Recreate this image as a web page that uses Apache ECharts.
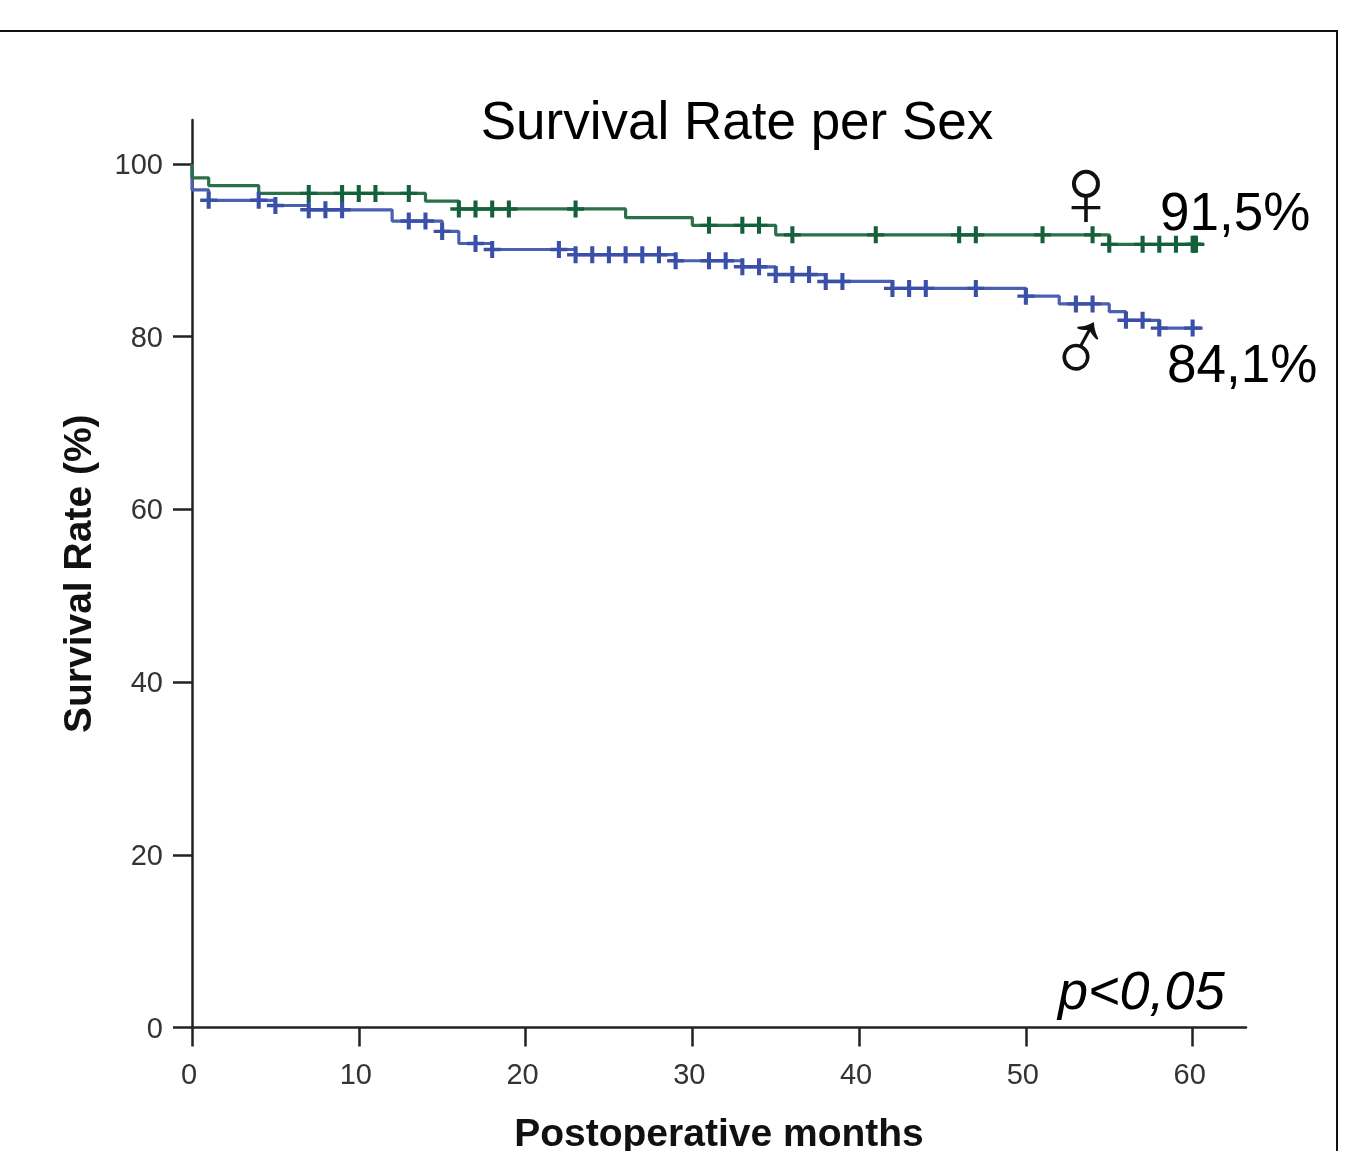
<!DOCTYPE html>
<html><head><meta charset="utf-8">
<style>html,body{margin:0;padding:0;background:#fff}#c{width:1346px;height:1151px}</style>
<script src="https://cdn.jsdelivr.net/npm/echarts@6/dist/echarts.min.js"></script>
</head><body><div id="c"></div>
<script>
const titleText = 'Survival Rate per Sex';
const xTicks = [0,10,20,30,40,50,60];
const yTicks = [0,20,40,60,80,100];
// Kaplan-Meier steps [month, survival %]
const femaleSteps = [[0,100],[0,98.4],[1,97.5],[4,96.6],[14,95.7],[16,94.8],[26,93.8],[30,92.9],[35,91.8],[55,90.7],[60.6,90.7]];
const maleSteps = [[0,100],[0,97],[1,95.8],[5,95.2],[7,94.7],[12,93.4],[15,92.2],[16,90.8],[18,90.1],[23,89.5],[29,88.8],[33,88.1],[35,87.2],[38,86.4],[42,85.6],[50,84.7],[52,83.8],[55,82.9],[56,81.9],[58,81],[60.6,81]];
// censored observations, months
const femaleCensored = [7,9,10,11,13,16,17,18,19,23,31,33,34,36,41,46,47,51,54,55,57,58,59,60,60.1,60.2];
const maleCensored = [1,4,5,7,8,9,13,14,15,17,18,22,23,24,25,26,27,28,29,31,32,33,34,35,36,37,38,39,42,43,44,47,50,53,54,56,57,58,60];
const greenLine = '#2a7048', greenMark = '#14603a', blueLine = '#4a60b0', blueMark = '#3a50a8';
const plus = 'path://M3.8,0H6.2V4H10V6H6.2V10H3.8V6H0V4H3.8Z';
const fontBody = '"Liberation Sans",Arial,sans-serif';

function survivalAt(steps, m){
  let v = steps[0][1];
  for (const s of steps) if (s[0] <= m) v = s[1];
  return v;
}
function censorPoints(steps, months){ return months.map(m => [m, survivalAt(steps, m)]); }
function bigText(text, x, y, extra){
  return {type:'text', x, y, style:Object.assign({text, fill:'#000', font:'53px '+fontBody, textVerticalAlign:'middle'}, extra||{}), z:10};
}

const chart = echarts.init(document.getElementById('c'), null, {renderer:'canvas'});
chart.setOption({
  animation:false,
  backgroundColor:'#fff',
  grid:{left:192, right:100, top:120, bottom:123.5, outerBoundsMode:'none', containLabel:false},
  xAxis:{
    type:'value', min:0, max:63.2, splitLine:{show:false},
    axisLine:{onZero:false, lineStyle:{color:'#222', width:2.5}},
    axisTick:{length:19, customValues:xTicks, lineStyle:{color:'#222', width:2.5}},
    axisLabel:{customValues:xTicks, color:'#333', fontSize:29, fontFamily:fontBody, margin:34, padding:[0,6,0,0]},
    name:'Postoperative months', nameLocation:'middle', nameGap:88,
    nameTextStyle:{color:'#111', fontSize:39, fontWeight:'bold', fontFamily:fontBody}
  },
  yAxis:{
    type:'value', min:0, max:105.1, splitLine:{show:false},
    axisLine:{onZero:false, lineStyle:{color:'#222', width:2.5}},
    axisTick:{length:19, customValues:yTicks, lineStyle:{color:'#222', width:2.5}},
    axisLabel:{customValues:yTicks, color:'#333', fontSize:29, fontFamily:fontBody, margin:29,
      formatter:'{a|{value}}', rich:{a:{color:'#333', fontSize:29, fontFamily:fontBody, padding:[4,0,0,0]}}},
    name:'Survival Rate (%)', nameLocation:'middle', nameGap:92,
    nameTextStyle:{color:'#111', fontSize:39, fontWeight:'bold', fontFamily:fontBody}
  },
  series:[
    {name:'Male', type:'line', step:'end', data:maleSteps, showSymbol:false, symbol:'none', lineStyle:{color:blueLine, width:3.2}, z:3},
    {name:'Female', type:'line', step:'end', data:femaleSteps, showSymbol:false, symbol:'none', lineStyle:{color:greenLine, width:3.2}, z:3},
    {name:'Male censored', type:'scatter', data:censorPoints(maleSteps, maleCensored), symbol:plus, symbolSize:[17,17], itemStyle:{color:blueMark, opacity:1}, z:4},
    {name:'Female censored', type:'scatter', data:censorPoints(femaleSteps, femaleCensored), symbol:plus, symbolSize:[17,17], itemStyle:{color:greenMark, opacity:1}, z:4}
  ],
  graphic:[
    {type:'polyline', shape:{points:[[0,31],[1337,31],[1337,1151]]}, style:{stroke:'#111', lineWidth:2, fill:null}},
    bigText(titleText, 737, 124, {textAlign:'center'}),
    bigText('91,5%', 1160, 215),
    bigText('84,1%', 1167, 367),
    bigText('p<0,05', 1058, 994, {font:'italic 54px '+fontBody}),
    {type:'text', x:1086, y:198, z:10, style:{text:'\u2640', fill:'#111', font:'100px "Liberation Sans"', textAlign:'center', textVerticalAlign:'middle'}},
    {type:'text', x:1082, y:354, rotation:0.28, z:10, style:{text:'\u2642', fill:'#111', font:'96px "Liberation Sans"', textAlign:'center', textVerticalAlign:'middle'}}
  ]
});
</script></body></html>
